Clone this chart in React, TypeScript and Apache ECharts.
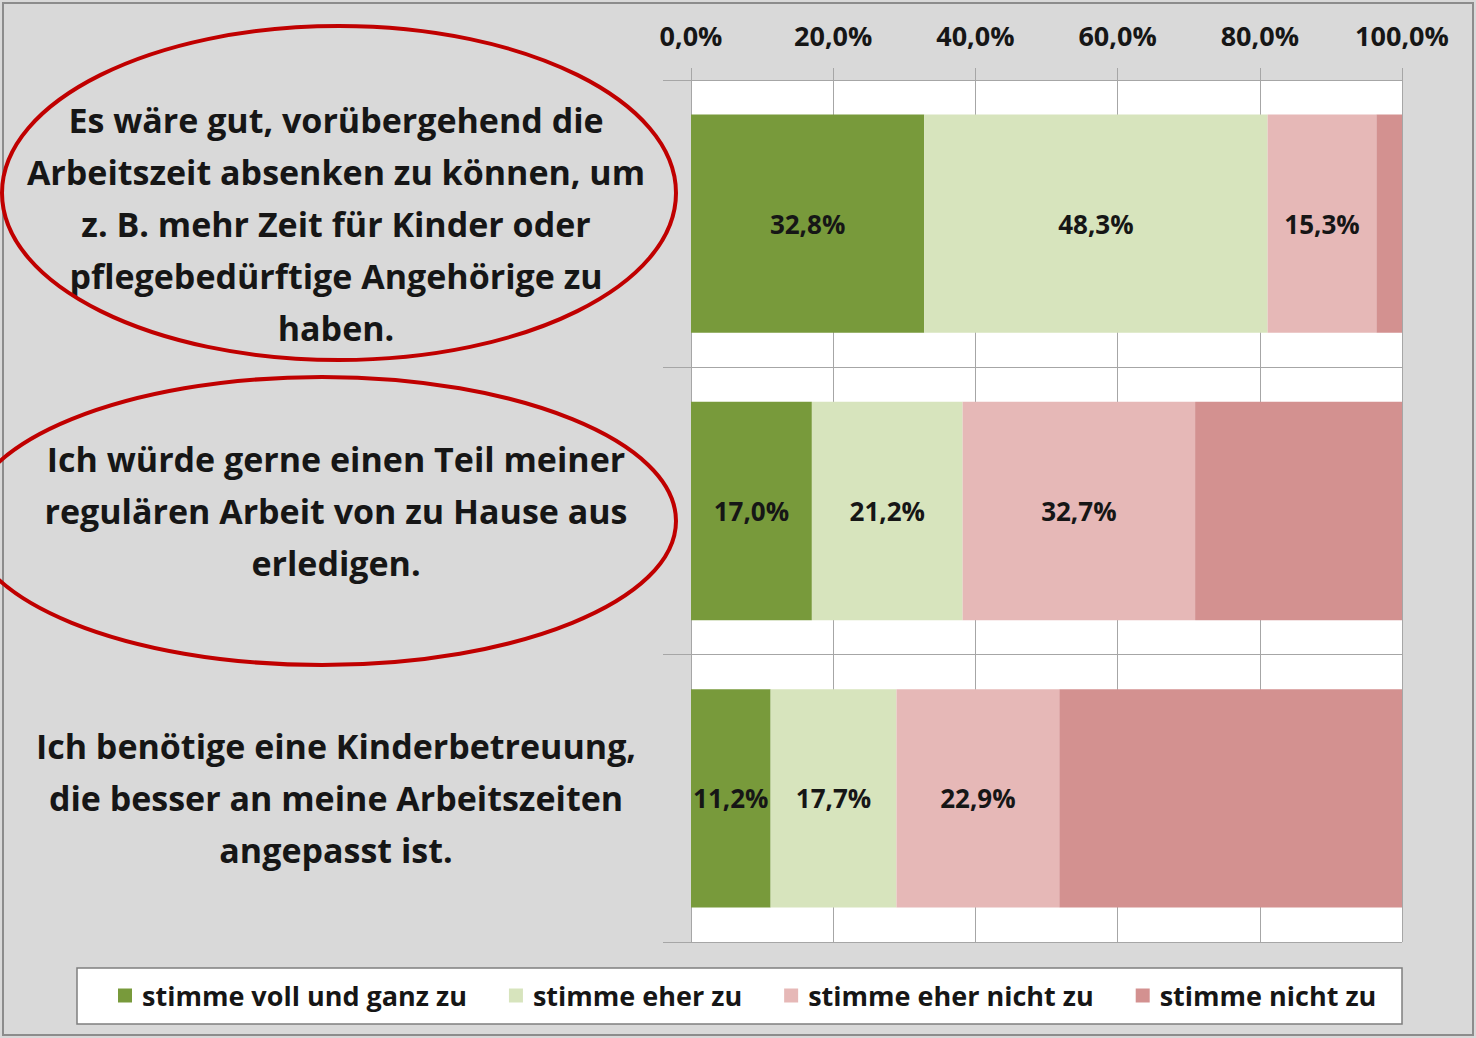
import React, { useEffect, useRef } from "react";
import * as echarts from "echarts";

const categories = [
  "Es wäre gut, vorübergehend die\nArbeitszeit absenken zu können, um\nz. B. mehr Zeit für Kinder oder\npflegebedürftige Angehörige zu\nhaben.",
  "Ich würde gerne einen Teil meiner\nregulären Arbeit von zu Hause aus\nerledigen.",
  "Ich benötige eine Kinderbetreuung,\ndie besser an meine Arbeitszeiten\nangepasst ist.",
];
const seriesNames = [
  "stimme voll und ganz zu",
  "stimme eher zu",
  "stimme eher nicht zu",
  "stimme nicht zu",
];
const vollUndGanz = [32.8, 17.0, 11.2];
const eherZu = [48.3, 21.2, 17.7];
const eherNicht = [15.3, 32.7, 22.9];
const nichtZu = [3.6, 29.1, 48.2];
const seriesColors = ["#789a3b", "#d7e4bd", "#e6b8b7", "#d39190"];
const seriesShowLabels = [true, true, true, false];

const FONT = "'Open Sans', Lato, sans-serif";
const TEXT = "#161616";
const WEIGHT = "bold";

const fmt = (v: number) => v.toFixed(1).replace(".", ",") + "%";

export default function App() {
  const ref = useRef<HTMLDivElement>(null);
  useEffect(() => {
    if (!ref.current) return;
    const chart = echarts.init(ref.current, undefined, { renderer: "svg" });
    const values = [vollUndGanz, eherZu, eherNicht, nichtZu];
    chart.setOption({
      animation: false,
      backgroundColor: "#d9d9d9",
      textStyle: { fontFamily: FONT },
      grid: {
        left: 691,
        right: 74,
        top: 80,
        bottom: 96,
        show: true,
        backgroundColor: "#ffffff",
        borderWidth: 0,
      },
      legend: {
        data: seriesNames,
        left: 118,
        top: 982,
        padding: 0,
        itemWidth: 14,
        itemHeight: 14,
        itemGap: 42,
        icon: "rect",
        textStyle: {
          fontFamily: FONT,
          fontSize: 27,
          fontWeight: WEIGHT,
          color: TEXT,
          padding: [0, 0, 0, 5],
        },
      },
      xAxis: {
        type: "value",
        position: "top",
        min: 0,
        max: 100,
        interval: 20,
        axisLine: { show: false },
        axisTick: { show: true, length: 12, lineStyle: { color: "#a6a6a6" } },
        splitLine: { show: true, lineStyle: { color: "#a6a6a6", width: 1 } },
        axisLabel: {
          formatter: (v: number) => fmt(v),
          fontSize: 27,
          fontWeight: WEIGHT,
          color: TEXT,
          fontFamily: FONT,
          margin: 31,
        },
      },
      yAxis: {
        type: "category",
        inverse: true,
        data: categories,
        axisLine: { show: true, lineStyle: { color: "#a6a6a6" } },
        axisTick: { show: true, length: 28, lineStyle: { color: "#a6a6a6" } },
        splitLine: { show: true, lineStyle: { color: "#a6a6a6", width: 1 } },
        axisLabel: {
          align: "center",
          margin: 355,
          fontSize: 34,
          lineHeight: 52,
          fontWeight: WEIGHT,
          color: TEXT,
          fontFamily: FONT,
        },
      },
      series: seriesNames.map((name, i) => ({
        name,
        type: "bar",
        stack: "total",
        barWidth: "76%",
        data: values[i],
        itemStyle: { color: seriesColors[i] },
        label: {
          show: seriesShowLabels[i],
          position: "inside",
          formatter: (p: any) => fmt(p.value),
          fontSize: 26,
          fontWeight: WEIGHT,
          color: TEXT,
          fontFamily: FONT,
        },
      })),
      graphic: [
        {
          type: "rect",
          z: 100,
          shape: { x: 3, y: 3, width: 1470, height: 1032 },
          style: { fill: "none", stroke: "#8c8c8c", lineWidth: 2 },
        },
        {
          type: "rect",
          z: -1,
          shape: { x: 77, y: 968, width: 1325, height: 56 },
          style: { fill: "#ffffff", stroke: "#7f7f7f", lineWidth: 1.5 },
        },
        {
          type: "ellipse",
          z: 100,
          shape: { cx: 339, cy: 193, rx: 337, ry: 167 },
          style: { fill: "none", stroke: "#c00000", lineWidth: 4 },
        },
        {
          type: "ellipse",
          z: 100,
          shape: { cx: 322, cy: 521, rx: 354, ry: 144 },
          style: { fill: "none", stroke: "#c00000", lineWidth: 4 },
        },
      ],
    });
    return () => chart.dispose();
  }, []);
  return (
    <div
      ref={ref}
      style={{ position: "fixed", left: 0, top: 0, width: 1476, height: 1038 }}
    />
  );
}
